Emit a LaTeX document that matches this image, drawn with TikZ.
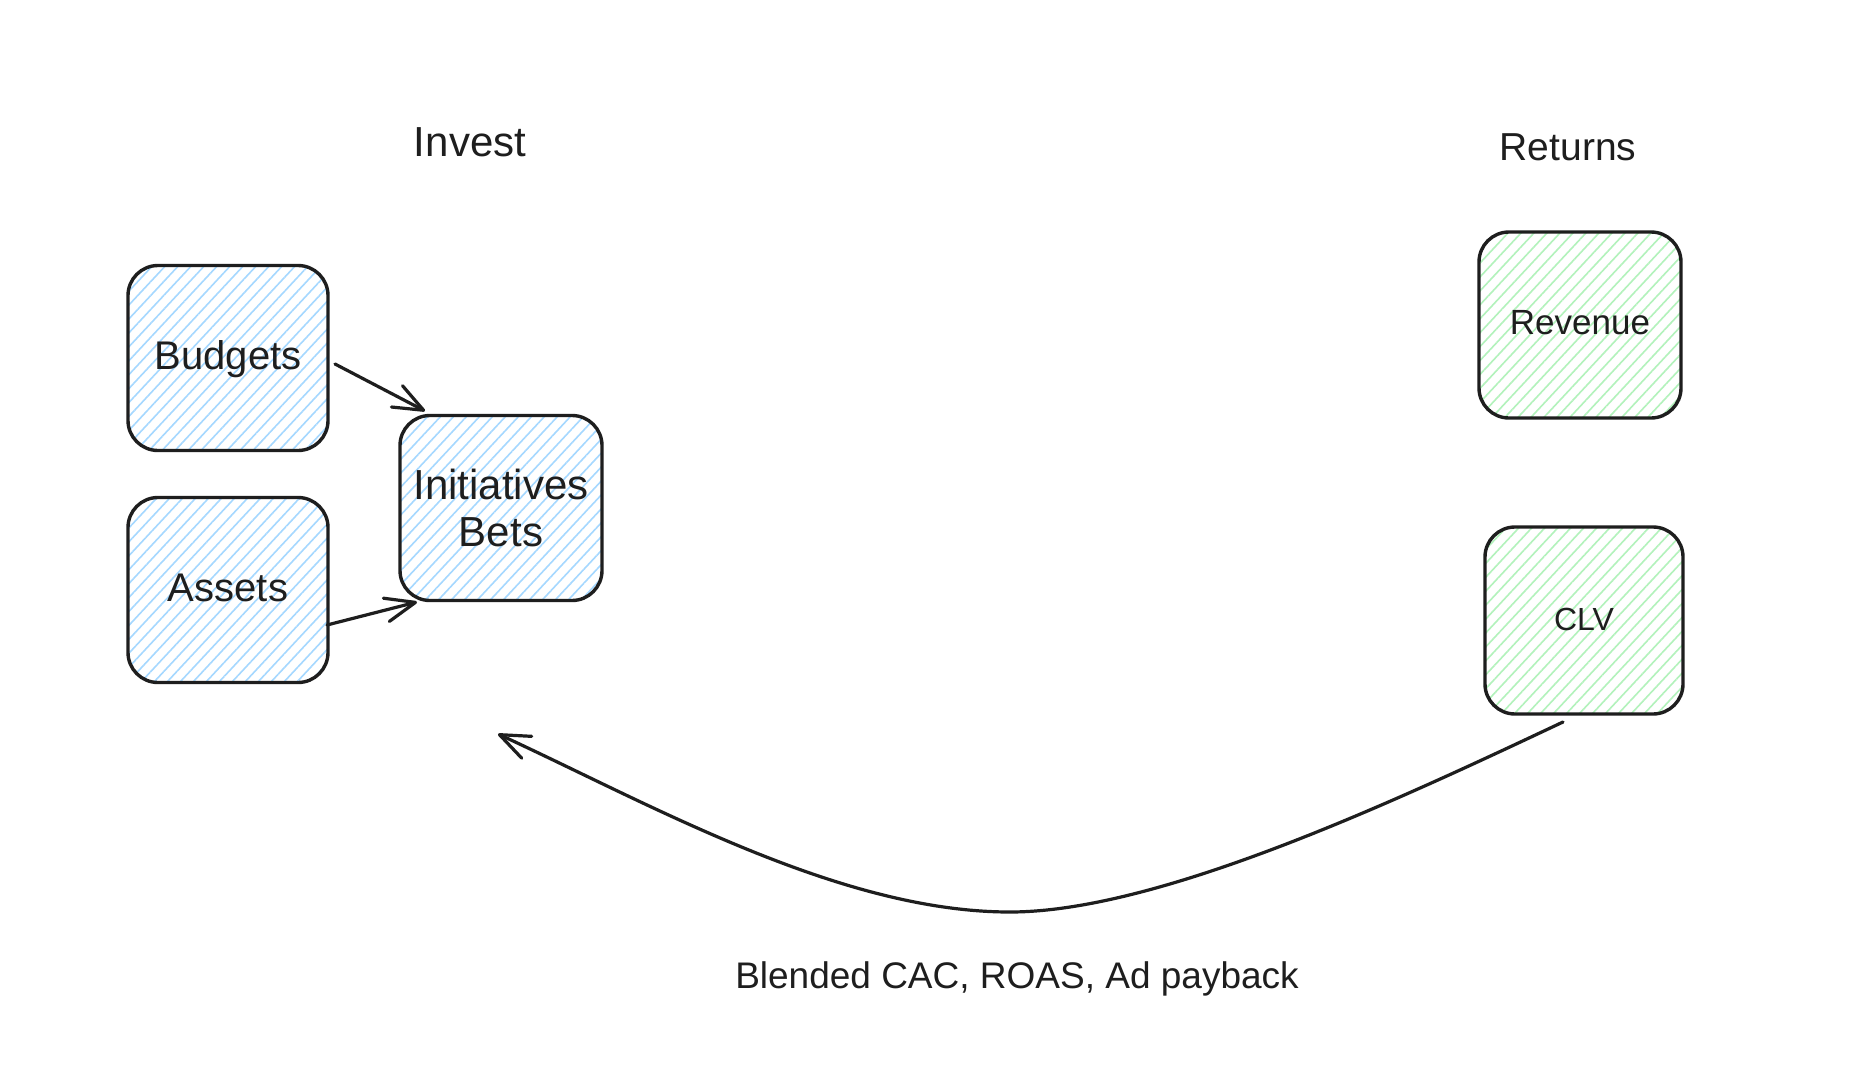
\documentclass[tikz,border=0pt]{standalone}
\usepackage{fontspec}
\setmainfont{Liberation Sans}
\usetikzlibrary{arrows.meta,patterns.meta}
\definecolor{ink}{HTML}{1E1E1E}
\definecolor{hatchblue}{HTML}{A5D8FF}
\definecolor{hatchgreen}{HTML}{B2F2BB}
\tikzset{
  box/.style={draw=ink, line width=3.4pt, rounded corners=30pt,
    minimum width=200pt, minimum height=185pt, inner sep=0pt, outer sep=0pt,
    text=ink, align=center},
  bluebox/.style={box, pattern={Lines[angle=47,distance=9.5pt,line width=1.6pt]}, pattern color=hatchblue},
  greenbox/.style={box, pattern={Lines[angle=47,distance=9.5pt,line width=1.6pt]}, pattern color=hatchgreen},
  conn/.style={draw=ink, line width=3.2pt, line cap=round, line join=round,
    -{Straight Barb[length=30pt,width=24pt,round]}},
  heading/.style={text=ink, inner sep=0pt, outer sep=0pt},
}
\begin{document}
\begin{tikzpicture}[x=1pt,y=-1pt]
\fill[white] (0,0) rectangle (1856,1084);
\useasboundingbox (0,0) rectangle (1856,1084);

% headings
\node[heading, font=\fontsize{42}{50}\selectfont, text height=30pt, text depth=0pt] (invest) at (470,141.5) {Invest};
\node[heading, font=\fontsize{39}{47}\selectfont, text height=28pt, text depth=0pt] (returns) at (1568,146.5) {Returns};

% invest side
\node[bluebox, font=\fontsize{40}{48}\selectfont, text height=28.6pt, text depth=5pt] (budgets) at (228,358) {Budgets};
\node[bluebox, font=\fontsize{40}{48}\selectfont, text height=28.6pt, text depth=5pt] (assets) at (228,590) {Assets};
\node[bluebox, minimum width=202pt, font=\fontsize{42}{47}\selectfont] (init) at (501,508) {Initiatives\\Bets};

% returns side
\node[greenbox, minimum width=202pt, minimum height=186pt, font=\fontsize{35}{42}\selectfont, text height=25pt, text depth=6pt] (revenue) at (1580,325) {Revenue};
\node[greenbox, minimum width=198pt, minimum height=187pt, font=\fontsize{32}{38}\selectfont, text height=23pt, text depth=3pt] (clv) at (1584,620.5) {CLV};

% connectors
\draw[conn] ([shift={(7,6)}]budgets.east) -- ([shift={(25,-4.5)}]init.north west);
\draw[conn] ([shift={(-1,35)}]assets.east) -- ([shift={(17,1.5)}]init.south west);

\coordinate (backtip) at (498,734);
\draw[conn] ([shift={(-21,8)}]clv.south) .. controls (1399.5,799) and (1160,912) .. (1010,912)
  .. controls (840,912) and (652,805) .. (backtip);

% label
\node[heading, font=\fontsize{37}{44}\selectfont, text height=26.5pt, text depth=0pt] (metrics) at (1017,975.5) {Blended CAC, ROAS, Ad payback};
\end{tikzpicture}
\end{document}
